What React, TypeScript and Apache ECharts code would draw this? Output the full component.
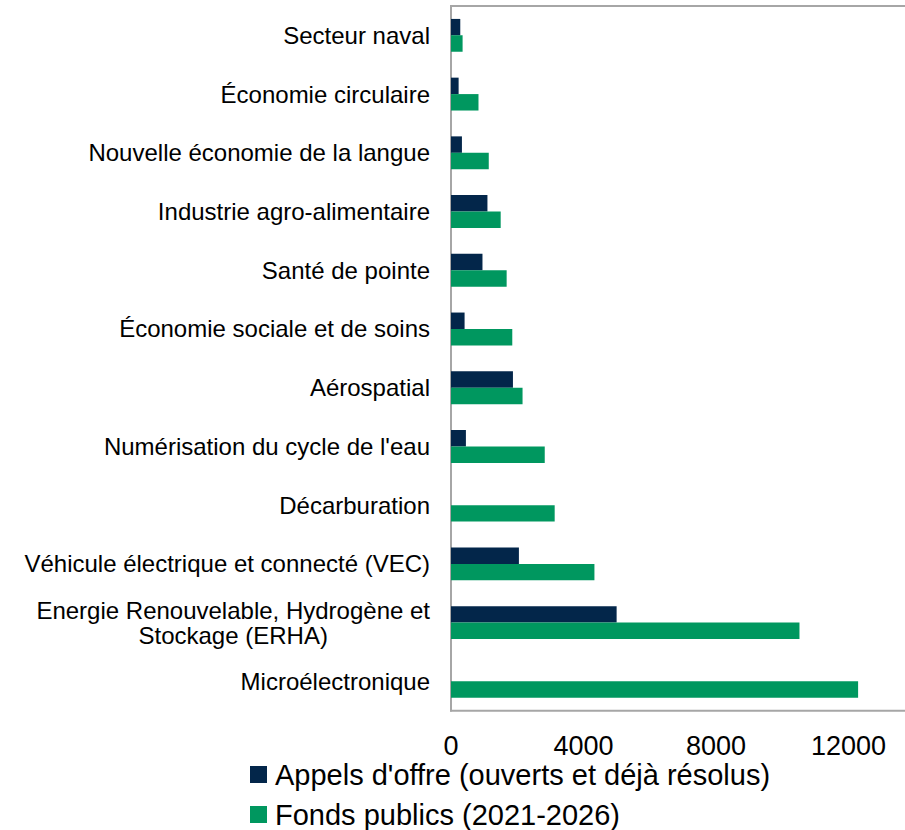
import React, { useEffect, useRef } from "react";
import * as echarts from "echarts";

// Sectors, listed top to bottom
const categories: string[] = [
  "Secteur naval",
  "Économie circulaire",
  "Nouvelle économie de la langue",
  "Industrie agro-alimentaire",
  "Santé de pointe",
  "Économie sociale et de soins",
  "Aérospatial",
  "Numérisation du cycle de l'eau",
  "Décarburation",
  "Véhicule électrique et connecté (VEC)",
  "Energie Renouvelable, Hydrogène et\nStockage (ERHA)",
  "Microélectronique",
];

// Appels d'offre (ouverts et déjà résolus)
const appelsOffre: number[] = [
  280, 230, 330, 1100, 950, 410, 1870, 450, 0, 2050, 5000, 0,
];

// Fonds publics (2021-2026)
const fondsPublics: number[] = [
  350, 830, 1140, 1500, 1680, 1850, 2160, 2830, 3130, 4330, 10520, 12290,
];

const seriesNames: string[] = [
  "Appels d'offre (ouverts et déjà résolus)",
  "Fonds publics (2021-2026)",
];

const xTicks = { min: 0, max: 14000, interval: 4000 };

const FONT = "'Liberation Sans', Arial, Helvetica, sans-serif";
const NAVY = "#03264a";
const GREEN = "#00975f";

export default function App() {
  const ref = useRef<HTMLDivElement | null>(null);

  useEffect(() => {
    if (!ref.current) return;
    const chart = echarts.init(ref.current, undefined, { renderer: "svg" });
    chart.setOption({
      animation: false,
      textStyle: { fontFamily: FONT },
      grid: {
        show: true,
        left: 451,
        top: 6,
        width: 463.75,
        height: 704.7,
        borderColor: "#a6a6a6",
        borderWidth: 2,
        backgroundColor: "transparent",
      },
      legend: {
        orient: "vertical",
        left: 250,
        top: 760,
        padding: 0,
        itemWidth: 17,
        itemHeight: 17,
        itemGap: 11,
        icon: "rect",
        data: seriesNames,
        textStyle: {
          fontFamily: FONT,
          fontSize: 29,
          lineHeight: 29,
          color: "#000",
          padding: [0, 0, 0, 3],
        },
      },
      xAxis: {
        type: "value",
        min: xTicks.min,
        max: xTicks.max,
        interval: xTicks.interval,
        splitLine: { show: false },
        axisLine: { show: false },
        axisTick: { show: false },
        axisLabel: {
          fontFamily: FONT,
          fontSize: 27,
          color: "#000",
          margin: 22,
          showMaxLabel: false,
          formatter: (v: number) => String(v),
        },
      },
      yAxis: {
        type: "category",
        inverse: true,
        data: categories,
        axisLine: { show: true, lineStyle: { color: "#a6a6a6", width: 2 } },
        axisTick: { show: false },
        axisLabel: {
          fontFamily: FONT,
          fontSize: 24,
          lineHeight: 25,
          color: "#000",
          margin: 21,
          formatter: (v: string) => (v.includes("\n") ? `{c|${v}}` : v),
          rich: {
            c: {
              align: "center",
              fontFamily: FONT,
              fontSize: 24,
              lineHeight: 25,
              color: "#000",
            },
          },
        },
      },
      series: [
        {
          name: seriesNames[0],
          type: "bar",
          data: appelsOffre,
          itemStyle: { color: NAVY },
          barGap: "0%",
          barCategoryGap: "44%",
        },
        {
          name: seriesNames[1],
          type: "bar",
          data: fondsPublics,
          itemStyle: { color: GREEN },
          barGap: "0%",
          barCategoryGap: "44%",
        },
      ],
    });
    return () => chart.dispose();
  }, []);

  return (
    <div
      style={{
        position: "fixed",
        left: 0,
        top: 0,
        width: 905,
        height: 830,
        overflow: "hidden",
        background: "#fff",
      }}
    >
      <div ref={ref} style={{ width: 960, height: 860 }} />
    </div>
  );
}
